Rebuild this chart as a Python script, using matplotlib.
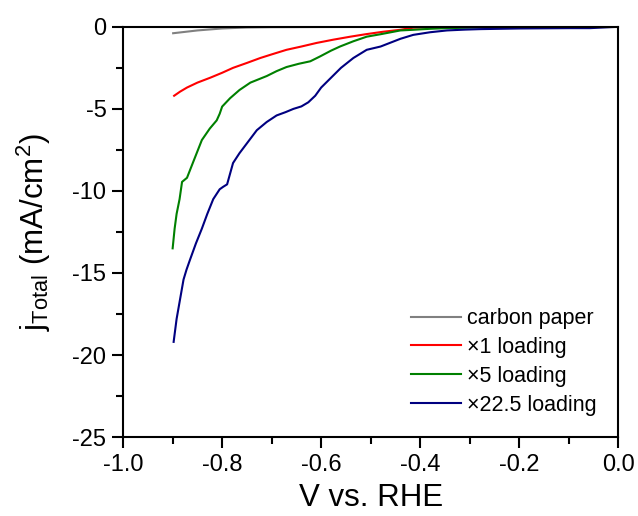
import numpy as np
import matplotlib
matplotlib.use("Agg")
import matplotlib.pyplot as plt
from matplotlib.ticker import MultipleLocator

plt.rcParams['font.family'] = ['Liberation Sans', 'DejaVu Sans']

# carbon paper
v_cp = [-0.899, -0.85, -0.8, -0.75, -0.7, -0.6, -0.4, -0.2, 0.0]
j_cp = [-0.39, -0.22, -0.1, -0.04, -0.02, -0.01, 0.0, 0.0, 0.0]

# x1 loading
v_1 = [-0.897, -0.885, -0.871, -0.85, -0.824, -0.8, -0.778, -0.75, -0.723, -0.7, -0.67,
       -0.64, -0.609, -0.575, -0.541, -0.51, -0.475, -0.44, -0.414, -0.38, -0.3, -0.2, -0.1, 0.0]
j_1 = [-4.2, -3.95, -3.7, -3.4, -3.1, -2.8, -2.5, -2.2, -1.9, -1.68, -1.4,
       -1.2, -0.98, -0.78, -0.6, -0.45, -0.3, -0.18, -0.05, -0.03, -0.01, 0.0, 0.0, 0.0]

# x5 loading
v_5 = [-0.9, -0.896, -0.892, -0.886, -0.881, -0.871, -0.858, -0.841, -0.825, -0.811, -0.805,
       -0.8, -0.784, -0.765, -0.743, -0.71, -0.69, -0.67, -0.645, -0.622, -0.602, -0.58,
       -0.562, -0.535, -0.508, -0.48, -0.44, -0.414, -0.38, -0.346, -0.3, -0.27, -0.2, -0.1, 0.0]
j_5 = [-13.5, -12.3, -11.4, -10.5, -9.45, -9.2, -8.2, -6.9, -6.2, -5.7, -5.3,
       -4.86, -4.35, -3.85, -3.4, -3.0, -2.7, -2.45, -2.25, -2.1, -1.8, -1.45,
       -1.2, -0.88, -0.6, -0.45, -0.22, -0.18, -0.12, -0.08, -0.05, -0.03, -0.01, 0.0, 0.0]

# x22.5 loading
v_22 = [-0.898, -0.895, -0.892, -0.885, -0.878, -0.872, -0.865, -0.853, -0.841, -0.83,
        -0.818, -0.805, -0.798, -0.79, -0.778, -0.765, -0.75, -0.73, -0.71, -0.69, -0.672,
        -0.656, -0.64, -0.626, -0.612, -0.6, -0.58, -0.56, -0.535, -0.508, -0.48, -0.44,
        -0.414, -0.38, -0.346, -0.31, -0.279, -0.2, -0.1, -0.057, -0.016, 0.0]
j_22 = [-19.2, -18.5, -17.8, -16.6, -15.4, -14.8, -14.2, -13.2, -12.3, -11.4,
        -10.5, -9.9, -9.75, -9.6, -8.3, -7.7, -7.1, -6.3, -5.8, -5.4, -5.2,
        -5.0, -4.85, -4.6, -4.2, -3.7, -3.1, -2.5, -1.9, -1.4, -1.2, -0.73,
        -0.49, -0.33, -0.22, -0.17, -0.14, -0.1, -0.08, -0.08, -0.02, 0.0]

labels = ['carbon paper', '\u00d71 loading', '\u00d75 loading', '\u00d722.5 loading']
colors = ['#808080', '#ff0000', '#008000', '#000080']

fig = plt.figure(figsize=(6.38, 5.16), dpi=100)
ax = fig.add_axes([0.193, 0.153, 0.776, 0.795])

series = [(v_cp, j_cp), (v_1, j_1), (v_5, j_5), (v_22, j_22)]
for (v, j), lab, c in zip(series, labels, colors):
    ax.plot(v, j, color=c, lw=1.5, label=lab)

ax.set_xlim(-1.0, 0.0)
ax.set_ylim(-25, 0)
ax.xaxis.set_major_locator(MultipleLocator(0.2))
ax.xaxis.set_minor_locator(MultipleLocator(0.1))
ax.yaxis.set_major_locator(MultipleLocator(5))
ax.yaxis.set_minor_locator(MultipleLocator(2.5))
ax.xaxis.set_major_formatter(plt.FuncFormatter(lambda x, p: '%.1f' % x if abs(x) > 1e-9 else '0.0'))
ax.yaxis.set_major_formatter(plt.FuncFormatter(lambda y, p: '%d' % y))
ax.tick_params(which='major', direction='out', length=8, width=1.5, labelsize=17, pad=4)
ax.tick_params(which='minor', direction='out', length=5, width=1.5)
for s in ax.spines.values():
    s.set_linewidth(1.5)

ax.set_xlabel('V vs. RHE', fontsize=22.5, labelpad=5)
ax.set_ylabel('j$_\\mathregular{Total}$ (mA/cm$^\\mathregular{2}$)', fontsize=22.5, labelpad=14)

ax.legend(loc='lower right', frameon=False, fontsize=15.5, handlelength=2.3,
          handletextpad=0.3, labelspacing=0.36, borderaxespad=0.6)

fig.savefig('out.png', dpi=100)
